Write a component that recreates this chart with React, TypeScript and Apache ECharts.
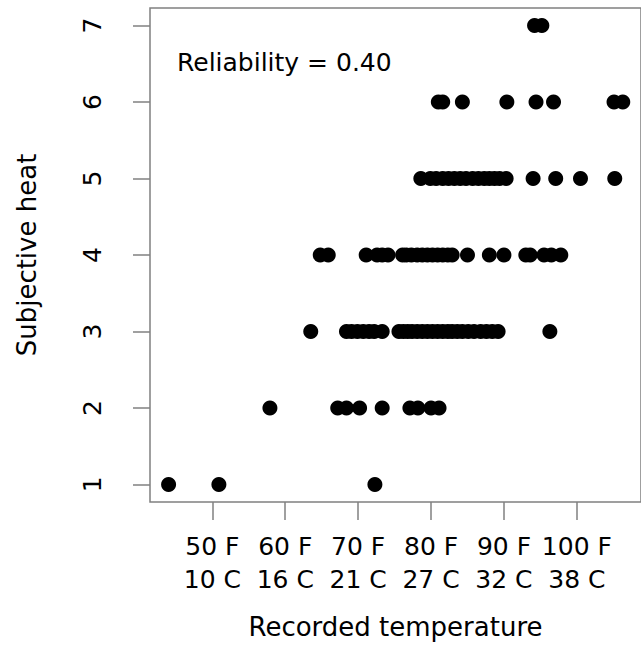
import React, { useEffect, useRef } from "react";
import * as echarts from "echarts";

// Recorded temperature (°F) of each observation, grouped by subjective heat rating
const heat1 = [44.0, 50.9, 72.3];
const heat2 = [57.9, 67.2, 68.4, 70.2, 73.3, 77.1, 78.2, 80.0, 81.1];
const heat3 = [
  63.5, 68.4, 69.1, 69.9, 70.7, 71.5, 72.2, 73.3, 75.6, 76.2, 76.8, 77.4, 78.1,
  78.8, 79.5, 80.2, 80.9, 81.6, 82.3, 82.9, 83.6, 84.3, 85.1, 85.9, 86.8, 87.6,
  88.4, 89.2, 96.3,
];
const heat4 = [
  64.8, 65.9, 71.1, 72.6, 73.3, 74.1, 76.1, 76.6, 77.3, 78.1, 78.8, 79.5, 80.2,
  80.9, 81.6, 82.3, 82.9, 85.0, 88.0, 90.0, 93.0, 93.6, 95.5, 96.5, 97.8,
];
const heat5 = [
  78.6, 79.9, 80.7, 81.6, 82.4, 83.2, 84.0, 84.8, 85.7, 86.5, 87.3, 88.0, 88.7,
  89.4, 90.3, 94.0, 97.1, 100.5, 105.2,
];
const heat6 = [81.0, 81.6, 84.3, 90.4, 94.4, 96.8, 105.1, 106.3];
const heat7 = [94.2, 95.2];

const heatLevels = [1, 2, 3, 4, 5, 6, 7];
const tempsByLevel = [heat1, heat2, heat3, heat4, heat5, heat6, heat7];

const tickF = [50, 60, 70, 80, 90, 100];
const tickC = [10, 16, 21, 27, 32, 38];

const reliabilityText = "Reliability = 0.40";

export default function App() {
  const ref = useRef<HTMLDivElement>(null);

  useEffect(() => {
    if (!ref.current) return;
    const chart = echarts.init(ref.current, null, { renderer: "svg" });
    const points: number[][] = [];
    tempsByLevel.forEach((arr, i) => {
      arr.forEach((t) => points.push([t, heatLevels[i]]));
    });
    const font = "DejaVu Sans";
    chart.setOption({
      animation: false,
      backgroundColor: "#ffffff",
      grid: {
        left: 150,
        right: -1,
        top: 8,
        bottom: 141.7,
        show: true,
        borderColor: "#808080",
        borderWidth: 1.5,
        backgroundColor: "transparent",
      },
      xAxis: {
        type: "value",
        min: 41.45,
        max: 108.8,
        name: "Recorded temperature",
        nameLocation: "middle",
        nameGap: 112,
        nameTextStyle: { fontFamily: font, fontSize: 26, color: "#000" },
        axisLine: { show: false },
        splitLine: { show: false },
        axisTick: {
          show: true,
          customValues: tickF,
          length: 18,
          lineStyle: { color: "#808080", width: 1.5 },
        },
        axisLabel: {
          customValues: tickF,
          margin: 28,
          fontFamily: font,
          fontSize: 25,
          lineHeight: 33,
          color: "#000",
          formatter: (v: number) => {
            const i = tickF.indexOf(Math.round(v));
            return `${tickF[i]} F\n${tickC[i]} C`;
          },
        },
      },
      yAxis: {
        type: "value",
        min: 0.77,
        max: 7.23,
        name: "Subjective heat",
        nameLocation: "middle",
        nameGap: 110,
        nameTextStyle: { fontFamily: font, fontSize: 26, color: "#000" },
        axisLine: { show: false },
        splitLine: { show: false },
        axisTick: {
          show: true,
          customValues: heatLevels,
          length: 17,
          lineStyle: { color: "#808080", width: 1.5 },
        },
        axisLabel: {
          customValues: heatLevels,
          rotate: 90,
          margin: 45,
          fontFamily: font,
          fontSize: 25,
          color: "#000",
        },
      },
      graphic: [
        {
          type: "text",
          left: 177,
          top: 50,
          style: {
            text: reliabilityText,
            fontFamily: font,
            fontSize: 25,
            fill: "#000",
          },
        },
      ],
      series: [
        {
          type: "scatter",
          data: points,
          symbol: "circle",
          symbolSize: 15,
          itemStyle: { color: "#000", opacity: 1 },
        },
      ],
    });
    return () => chart.dispose();
  }, []);

  return (
    <div
      ref={ref}
      style={{ position: "absolute", left: 0, top: 0, width: 641, height: 645 }}
    />
  );
}
